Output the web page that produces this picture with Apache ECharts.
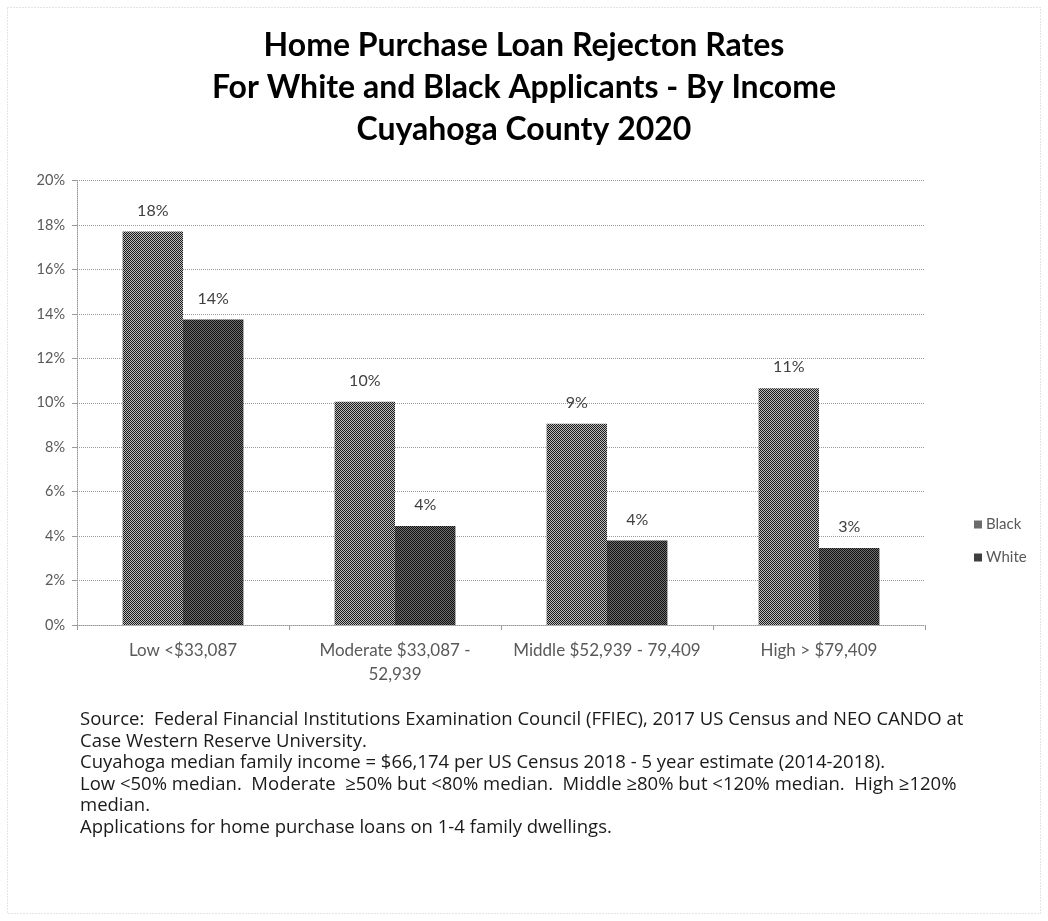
<!DOCTYPE html>
<html>
<head>
<meta charset="utf-8">
<script src="https://cdn.jsdelivr.net/npm/echarts@6/dist/echarts.min.js"></script>
<style>
  html, body { margin: 0; padding: 0; background: #fff; }
  #chart { width: 1048px; height: 921px; }
</style>
</head>
<body>
<div id="chart"></div>
<script>
// Income brackets (x axis)
const categories = ['Low <$33,087', 'Moderate $33,087 -\n52,939', 'Middle $52,939 - 79,409', 'High > $79,409'];
// Rejection rates, percent
const blackRates = [17.7, 10.05, 9.05, 10.65];
const whiteRates = [13.75, 4.45, 3.8, 3.47];
// Y axis ticks (percent)
const yMin = 0, yMax = 20, yStep = 2;

const titleLines = [
  'Home Purchase Loan Rejecton Rates',
  'For White and Black Applicants - By Income',
  'Cuyahoga County 2020'
];
const notes = [
  'Source:  Federal Financial Institutions Examination Council (FFIEC), 2017 US Census and NEO CANDO at',
  'Case Western Reserve University.',
  'Cuyahoga median family income = $66,174 per US Census 2018 - 5 year estimate (2014-2018).',
  'Low <50% median.  Moderate  \u226550% but <80% median.  Middle \u226580% but <120% median.  High \u2265120%',
  'median.',
  'Applications for home purchase loans on 1-4 family dwellings.'
];

// Checkerboard fill, like a printed halftone
function checker(dark, light) {
  const c = document.createElement('canvas');
  c.width = 2; c.height = 2;
  const g = c.getContext('2d');
  g.fillStyle = light; g.fillRect(0, 0, 2, 2);
  g.fillStyle = dark; g.fillRect(0, 0, 1, 1); g.fillRect(1, 1, 1, 1);
  return { image: c, repeat: 'repeat' };
}
const blackFill = checker('#1a1a1a', '#bcbcbc');
const whiteFill = checker('#111111', '#6e6e6e');

const FONT = 'Lato';
const chart = echarts.init(document.getElementById('chart'));

const valueLabel = {
  show: true, position: 'top', distance: 13,
  fontFamily: FONT, fontSize: 16, color: '#404040',
  formatter: p => Math.round(p.value) + '%'
};

chart.setOption({
  backgroundColor: '#fff',
  animation: false,
  title: {
    text: titleLines.join('\n'),
    left: 'center',
    top: 20,
    textStyle: { fontFamily: FONT, fontSize: 32, fontWeight: 'bold', color: '#000', lineHeight: 42 }
  },
  legend: {
    orient: 'vertical',
    left: 969,
    top: 512,
    itemWidth: 8,
    itemHeight: 8,
    itemGap: 18,
    icon: 'rect',
    textStyle: { fontFamily: FONT, fontSize: 15, color: '#595959', padding: [0, 0, 0, -1] },
    data: ['Black', 'White']
  },
  grid: { left: 77, right: 123, top: 180.5, bottom: 296, containLabel: false },
  xAxis: {
    type: 'category',
    data: categories,
    axisLine: { lineStyle: { color: '#9a9a9a', type: 'dotted' } },
    axisTick: { show: true, length: 5, lineStyle: { color: '#9a9a9a' } },
    axisLabel: { fontFamily: FONT, fontSize: 17, color: '#595959', margin: 14, lineHeight: 24, interval: 0 }
  },
  yAxis: {
    type: 'value',
    min: yMin, max: yMax, interval: yStep,
    axisLine: { show: true, lineStyle: { color: '#9a9a9a', type: 'dotted' } },
    axisTick: { show: true, length: 5, lineStyle: { color: '#9a9a9a' } },
    axisLabel: { fontFamily: FONT, fontSize: 14.5, color: '#595959', margin: 12, formatter: '{value}%' },
    splitLine: { lineStyle: { color: '#9a9a9a', type: 'dotted' } }
  },
  series: [
    {
      name: 'Black', type: 'bar', data: blackRates,
      barWidth: '28.5%', barGap: '0%', barCategoryGap: '43%',
      itemStyle: { color: blackFill },
      label: valueLabel
    },
    {
      name: 'White', type: 'bar', data: whiteRates,
      barWidth: '28.5%', barGap: '0%', barCategoryGap: '43%',
      itemStyle: { color: whiteFill },
      label: valueLabel
    }
  ],
  graphic: [
    {
      type: 'rect', silent: true, z: -1,
      shape: { x: 7.5, y: 7.5, width: 1033, height: 906 },
      style: { fill: 'none', stroke: '#c8c8c8', lineWidth: 1, lineDash: [1, 2] }
    },
    {
      type: 'text', left: 80, top: 709,
      style: {
        text: notes.join('\n'),
        font: '18.5px "Open Sans"',
        lineHeight: 21.6,
        fill: '#1a1a1a'
      }
    }
  ]
});
</script>
</body>
</html>
